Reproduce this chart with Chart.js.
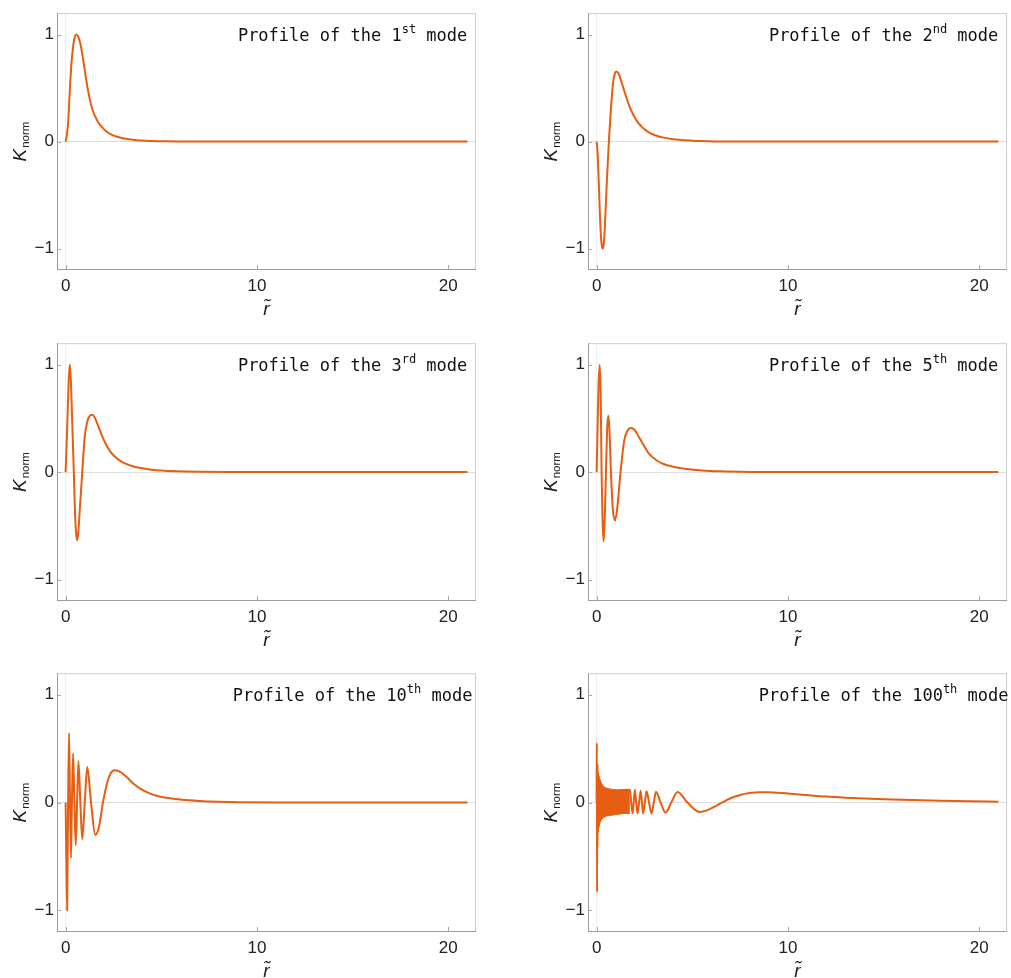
<!DOCTYPE html>
<html><head><meta charset="utf-8">
<script src="https://cdn.jsdelivr.net/npm/chart.js@4/dist/chart.umd.min.js"></script>
<style>
html,body{margin:0;padding:0;background:#fff;width:1011px;height:978px;overflow:hidden;}
canvas{position:absolute;}
</style></head><body>
<canvas id="c0"></canvas><canvas id="c1"></canvas><canvas id="c2"></canvas>
<canvas id="c3"></canvas><canvas id="c4"></canvas><canvas id="c5"></canvas>
<script>
// ---------- data ----------
const modeNumbers = ['1', '2', '3', '5', '10', '100'];
const modeSuffixes = ['st', 'nd', 'rd', 'th', 'th', 'th'];
const xTickValues = [0, 10, 20];
const yTickValues = [-1, 0, 1];

const mode1X = [0, 0.07, 0.14, 0.22, 0.31, 0.4, 0.48, 0.57, 0.66, 0.75, 0.85, 0.95, 1.05, 1.15, 1.27, 1.4, 1.55, 1.7, 1.9, 2.1, 2.4, 2.7, 3.0, 3.5, 4.0, 4.5, 5.2, 6, 7, 8.5, 10, 15, 21];
const mode1Y = [0, 0.07, 0.2, 0.48, 0.74, 0.9, 0.98, 1.0, 0.98, 0.93, 0.84, 0.73, 0.61, 0.5, 0.39, 0.3, 0.235, 0.18, 0.135, 0.1, 0.065, 0.045, 0.032, 0.018, 0.01, 0.006, 0.003, 0.0015, 0.0005, 0, 0, 0, 0];

const mode2X = [0, 0.05, 0.09, 0.13, 0.17, 0.24, 0.29, 0.33, 0.37, 0.43, 0.52, 0.64, 0.75, 0.87, 0.96, 1.04, 1.15, 1.27, 1.4, 1.55, 1.74, 1.95, 2.2, 2.5, 2.8, 3.13, 3.5, 3.9, 4.4, 5, 5.8, 7, 9, 15, 21];
const mode2Y = [0, -0.1, -0.27, -0.47, -0.67, -0.92, -0.99, -1.0, -0.96, -0.8, -0.43, 0, 0.31, 0.56, 0.64, 0.655, 0.635, 0.575, 0.5, 0.415, 0.32, 0.24, 0.17, 0.115, 0.08, 0.055, 0.037, 0.025, 0.015, 0.009, 0.004, 0.0015, 0, 0, 0];

const mode3X = [0, 0.05, 0.1, 0.16, 0.22, 0.27, 0.31, 0.38, 0.43, 0.48, 0.54, 0.6, 0.67, 0.74, 0.87, 1.0, 1.15, 1.25, 1.35, 1.5, 1.7, 1.9, 2.05, 2.3, 2.57, 2.9, 3.26, 3.6, 4.0, 4.4, 5.0, 5.8, 7, 9, 12, 21];
const mode3Y = [0, 0.25, 0.51, 0.85, 1.0, 0.88, 0.67, 0.27, 0, -0.32, -0.55, -0.635, -0.55, -0.35, 0, 0.33, 0.48, 0.52, 0.533, 0.515, 0.43, 0.34, 0.28, 0.2, 0.145, 0.1, 0.07, 0.05, 0.035, 0.025, 0.014, 0.007, 0.003, 0.001, 0, 0];

const mode5X = [0, 0.05, 0.1, 0.16, 0.21, 0.26, 0.31, 0.37, 0.43, 0.49, 0.55, 0.61, 0.67, 0.75, 0.85, 0.96, 1.07, 1.25, 1.45, 1.6, 1.79, 2.0, 2.2, 2.43, 2.7, 3.13, 3.5, 4.0, 4.7, 5.5, 6.5, 8, 10, 14, 21];
const mode5Y = [0, 0.4, 0.8, 1.0, 0.75, 0, -0.45, -0.645, -0.4, 0, 0.4, 0.527, 0.4, 0, -0.35, -0.45, -0.35, 0, 0.3, 0.38, 0.41, 0.39, 0.33, 0.26, 0.18, 0.11, 0.075, 0.05, 0.028, 0.015, 0.007, 0.002, 0.0005, 0, 0];

const mode10X = [0, 0.04, 0.08, 0.13, 0.18, 0.23, 0.28, 0.33, 0.39, 0.46, 0.53, 0.6, 0.67, 0.77, 0.87, 1.0, 1.13, 1.33, 1.55, 1.75, 1.95, 2.2, 2.35, 2.55, 2.9, 3.2, 3.52, 3.9, 4.39, 4.8, 5.26, 6.1, 7, 8, 9, 11, 15, 21];
const mode10Y = [0, -0.55, -1.0, 0, 0.645, 0, -0.515, 0, 0.455, 0, -0.395, 0, 0.385, 0, -0.34, 0, 0.33, 0, -0.30, -0.22, 0, 0.2, 0.27, 0.30, 0.28, 0.235, 0.18, 0.13, 0.085, 0.062, 0.045, 0.026, 0.015, 0.008, 0.004, 0.001, 0, 0];

const mode100X = [0, 0.01, 0.025, 0.04, 0.05, 0.06, 1.74, 1.81, 1.88, 1.94, 2.0, 2.07, 2.14, 2.22, 2.3, 2.37, 2.43, 2.52, 2.61, 2.74, 2.87, 2.99, 3.1, 3.35, 3.6, 3.9, 4.23, 4.75, 5.39, 5.8, 6.2, 6.55, 7.0, 7.5, 8.0, 8.5, 9.0, 10, 11, 12, 13, 14, 15, 16.5, 18, 19.5, 21];
const mode100Y = [0, 0.555, -0.83, 0.3, -0.25, 0, 0.12, 0, -0.1, 0, 0.12, 0, -0.1, 0, 0.11, 0, -0.1, 0, 0.105, 0, -0.1, 0, 0.1, 0, -0.093, 0, 0.098, 0, -0.087, -0.07, -0.035, 0, 0.04, 0.07, 0.088, 0.096, 0.095, 0.085, 0.07, 0.056, 0.046, 0.038, 0.031, 0.023, 0.017, 0.012, 0.008];
// envelope of the dense oscillation band of the 100th mode
const mode100BandX = [0.03, 0.06, 0.1, 0.17, 0.25, 0.35, 0.5, 0.7, 1.0, 1.22, 1.5, 1.74];
const mode100BandTop = [0.36, 0.3, 0.26, 0.22, 0.18, 0.15, 0.135, 0.125, 0.12, 0.115, 0.115, 0.11];
const mode100BandBottom = [-0.4, -0.3, -0.25, -0.19, -0.16, -0.14, -0.125, -0.12, -0.11, -0.105, -0.1, -0.1];

const seriesX = [mode1X, mode2X, mode3X, mode5X, mode10X, mode100X];
const seriesY = [mode1Y, mode2Y, mode3Y, mode5Y, mode10Y, mode100Y];

// ---------- layout / style ----------
const LINE = 'rgb(230,94,18)';
const colLeft = [0, 505], colWidth = [505, 506];
const frameL = [57, 588], frameR = [476, 1007];
const rowTop = [0, 330, 660], rowH = [330, 330, 318];
const frameT = [12, 342, 673], frameB = [270, 601, 932];

function pts(xs, ys) { return xs.map((x, i) => ({x: x, y: ys[i]})); }
function fmt(v) { return v < 0 ? '\u2212' + Math.abs(v) : String(v); }

const decor = {
  id: 'decor',
  afterDraw(chart, args, o) {
    const ctx = chart.ctx, a = chart.chartArea, xs = chart.scales.x, ys = chart.scales.y;
    ctx.save();
    // frame
    ctx.lineWidth = 1;
    ctx.strokeStyle = '#cdcdcd';
    ctx.beginPath();
    ctx.moveTo(a.left, a.top + 0.5); ctx.lineTo(a.right, a.top + 0.5);
    ctx.moveTo(a.right - 0.5, a.top); ctx.lineTo(a.right - 0.5, a.bottom);
    ctx.stroke();
    ctx.strokeStyle = '#9c9c9c';
    ctx.beginPath();
    ctx.moveTo(a.left + 0.5, a.top); ctx.lineTo(a.left + 0.5, a.bottom);
    ctx.moveTo(a.left, a.bottom - 0.5); ctx.lineTo(a.right, a.bottom - 0.5);
    ctx.stroke();
    // inward ticks
    ctx.strokeStyle = '#a8a8a8';
    ctx.beginPath();
    yTickValues.forEach(v => { const y = Math.round(ys.getPixelForValue(v)) + 0.5; ctx.moveTo(a.left, y); ctx.lineTo(a.left + 4, y); });
    xTickValues.forEach(v => { const x = Math.round(xs.getPixelForValue(v)) + 0.5; ctx.moveTo(x, a.bottom); ctx.lineTo(x, a.bottom - 5); });
    ctx.stroke();
    // annotation
    const cx = xs.getPixelForValue(15), base = ys.getPixelForValue(1) + 6;
    const mainFont = '17px "DejaVu Sans Mono"', supFont = '12px "DejaVu Sans Mono"';
    const t1 = 'Profile of the ' + o.num, t2 = ' mode';
    ctx.font = mainFont; const w1 = ctx.measureText(t1).width, w3 = ctx.measureText(t2).width;
    ctx.font = supFont; const w2 = ctx.measureText(o.sup).width;
    let x0 = cx - (w1 + w2 + w3) / 2;
    ctx.fillStyle = '#111'; ctx.textBaseline = 'alphabetic'; ctx.textAlign = 'left';
    ctx.font = mainFont; ctx.fillText(t1, x0, base);
    ctx.font = supFont; ctx.fillText(o.sup, x0 + w1, base - 7.5);
    ctx.font = mainFont; ctx.fillText(t2, x0 + w1 + w2, base);
    // y title K_norm (rotated)
    const kFont = 'italic 19px "Liberation Sans"', sFont = '11.5px "Liberation Sans"';
    ctx.font = kFont; const wk = ctx.measureText('K').width;
    ctx.font = sFont; const wn = ctx.measureText('norm').width;
    const midY = (a.top + a.bottom) / 2;
    ctx.translate(a.left - 31, midY + (wk + wn + 1) / 2);
    ctx.rotate(-Math.PI / 2);
    ctx.fillStyle = '#222';
    ctx.font = kFont; ctx.fillText('K', 0, 0);
    ctx.font = sFont; ctx.fillText('norm', wk + 1, 2.5);
    ctx.setTransform(1, 0, 0, 1, 0, 0);
    // x title r~
    ctx.font = 'italic 19px "Liberation Sans"';
    ctx.textAlign = 'center';
    ctx.fillText('r\u0303', (a.left + a.right) / 2, a.bottom + 45);
    ctx.restore();
  }
};

for (let i = 0; i < 6; i++) {
  const col = i % 2, row = Math.floor(i / 2);
  const cv = document.getElementById('c' + i);
  cv.width = colWidth[col]; cv.height = rowH[row];
  cv.style.left = colLeft[col] + 'px'; cv.style.top = rowTop[row] + 'px';
  const datasets = [];
  if (i === 5) {
    datasets.push({data: pts(mode100BandX, mode100BandTop), borderColor: LINE, backgroundColor: LINE, borderWidth: 1, pointRadius: 0, fill: false, tension: 0});
    datasets.push({data: pts(mode100BandX, mode100BandBottom), borderColor: LINE, backgroundColor: LINE, borderWidth: 1, pointRadius: 0, fill: '-1', tension: 0});
  }
  datasets.push({data: pts(seriesX[i], seriesY[i]), borderColor: LINE, borderWidth: 2, pointRadius: 0, fill: false, cubicInterpolationMode: 'monotone', borderJoinStyle: 'round'});
  const fl = frameL[col], fr = frameR[col], ft = frameT[row], fb = frameB[row];
  const cx0 = colLeft[col], cy0 = rowTop[row], cw = colWidth[col], ch = rowH[row];
  new Chart(cv, {
    type: 'line',
    data: {datasets: datasets},
    plugins: [decor],
    options: {
      responsive: false, animation: false, devicePixelRatio: 1,
      layout: {autoPadding: false, padding: {left: 0, top: ft - cy0, right: cx0 + cw - fr, bottom: 0}},
      plugins: {legend: {display: false}, tooltip: {enabled: false}, decor: {num: modeNumbers[i], sup: modeSuffixes[i]}},
      scales: {
        x: {
          type: 'linear', min: -0.45, max: 21.45,
          afterBuildTicks: s => { s.ticks = xTickValues.map(v => ({value: v})); },
          afterFit: s => { s.height = cy0 + ch - fb; },
          grid: {drawTicks: false, lineWidth: 1, color: c => (c.tick && c.tick.value === 0) ? '#eeeeee' : 'rgba(0,0,0,0)'},
          border: {display: false},
          ticks: {padding: 6, autoSkip: false, maxRotation: 0, color: '#222', font: {family: 'Liberation Sans', size: 17}, callback: v => fmt(v)}
        },
        y: {
          type: 'linear', min: -1.2, max: 1.2,
          afterBuildTicks: s => { s.ticks = yTickValues.map(v => ({value: v})); },
          afterFit: s => { s.width = fl - cx0; },
          grid: {drawTicks: false, lineWidth: 1, color: c => (c.tick && c.tick.value === 0) ? '#dedede' : 'rgba(0,0,0,0)'},
          border: {display: false},
          ticks: {padding: 3, color: '#222', font: {family: 'Liberation Sans', size: 17}, callback: v => fmt(v)}
        }
      }
    }
  });
}
</script>
</body></html>
